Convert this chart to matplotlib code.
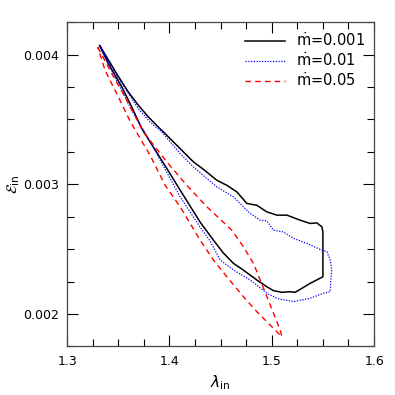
import matplotlib
matplotlib.use("Agg")
import matplotlib.pyplot as plt
from matplotlib.ticker import MultipleLocator, FormatStrFormatter

# mdot = 0.001 (closed loop, starting at the tip, upper branch first)
lam_001 = [1.3318, 1.3388, 1.3489, 1.3599, 1.3697, 1.3795, 1.3892, 1.3958, 1.4170,
           1.4235, 1.4332, 1.4463, 1.4561, 1.4659, 1.4757, 1.4854, 1.4952, 1.5050,
           1.5148, 1.5278, 1.5375, 1.5441, 1.5490, 1.5500, 1.5500, 1.5375, 1.5278,
           1.5229, 1.5180, 1.5099, 1.5017, 1.4952, 1.4854, 1.4723, 1.4626, 1.4528,
           1.4430, 1.4300, 1.4105, 1.3975, 1.3811, 1.3730, 1.3632, 1.3535, 1.3404,
           1.3318]
eps_001 = [0.004069, 0.003979, 0.003846, 0.003710, 0.003608, 0.003518, 0.003441,
           0.003390, 0.003223, 0.003172, 0.003115, 0.003031, 0.002992, 0.002941,
           0.002852, 0.002838, 0.002787, 0.002762, 0.002762, 0.002723, 0.002698,
           0.002702, 0.002672, 0.002633, 0.002287, 0.002236, 0.002190, 0.002167,
           0.002172, 0.002167, 0.002180, 0.002210, 0.002262, 0.002338, 0.002390,
           0.002469, 0.002569, 0.002708, 0.002954, 0.003121, 0.003326, 0.003429,
           0.003595, 0.003749, 0.003928, 0.004069]

# mdot = 0.01
lam_01 = [1.3318, 1.3489, 1.3697, 1.3811, 1.3926, 1.4105, 1.4235, 1.4366, 1.4463,
          1.4626, 1.4691, 1.4789, 1.4887, 1.4952, 1.5017, 1.5114, 1.5212, 1.5343,
          1.5473, 1.5539, 1.5571, 1.5587, 1.5577, 1.5571, 1.5505, 1.5375, 1.5212,
          1.5050, 1.4952, 1.4789, 1.4626, 1.4496, 1.4398, 1.4300, 1.4105, 1.3821,
          1.3626, 1.3430, 1.3318]
eps_01 = [0.004069, 0.003831, 0.003582, 0.003479, 0.003402, 0.003236, 0.003133,
          0.003044, 0.002980, 0.002902, 0.002852, 0.002775, 0.002723, 0.002718,
          0.002646, 0.002633, 0.002583, 0.002544, 0.002498, 0.002480, 0.002416,
          0.002339, 0.002262, 0.002172, 0.002160, 0.002121, 0.002095, 0.002121,
          0.002160, 0.002262, 0.002339, 0.002416, 0.002562, 0.002669, 0.002902,
          0.003316, 0.003577, 0.003885, 0.004069]

# mdot = 0.05
lam_05 = [1.3300, 1.3437, 1.3567, 1.3746, 1.3975, 1.4170, 1.4366, 1.4610, 1.4723,
          1.4821, 1.4887, 1.4952, 1.5017, 1.5082, 1.5099, 1.4984, 1.4854, 1.4723,
          1.4561, 1.4430, 1.4300, 1.4105, 1.3958, 1.3811, 1.3616, 1.3501, 1.3371,
          1.3300]
eps_05 = [0.004056, 0.003852, 0.003672, 0.003402, 0.003172, 0.002992, 0.002826,
          0.002646, 0.002518, 0.002390, 0.002262, 0.002134, 0.002006, 0.001877,
          0.001825, 0.001915, 0.002018, 0.002133, 0.002287, 0.002416, 0.002569,
          0.002826, 0.002992, 0.003223, 0.003485, 0.003672, 0.003877, 0.004056]

fig = plt.figure(figsize=(3.95, 3.95), dpi=100)
ax = fig.add_axes([0.17, 0.123, 0.777, 0.821])

ax.plot(lam_001, eps_001, color="black", lw=1.1, ls="-", label=r"$\dot{\rm m}$=0.001")
ax.plot(lam_01, eps_01, color="blue", lw=0.9, ls=(0, (1, 1.2)), label=r"$\dot{\rm m}$=0.01")
ax.plot(lam_05, eps_05, color="red", lw=1.0, ls=(0, (4, 3)), label=r"$\dot{\rm m}$=0.05")

ax.set_xlim(1.3, 1.6)
ax.set_ylim(0.00175, 0.00425)
ax.xaxis.set_major_locator(MultipleLocator(0.1))
ax.xaxis.set_minor_locator(MultipleLocator(0.025))
ax.yaxis.set_major_locator(MultipleLocator(0.001))
ax.yaxis.set_minor_locator(MultipleLocator(0.00025))
ax.xaxis.set_major_formatter(FormatStrFormatter("%.1f"))
ax.yaxis.set_major_formatter(FormatStrFormatter("%.3f"))
ax.tick_params(which="both", direction="in", top=True, right=True, labelsize=9, width=0.8)
ax.tick_params(which="major", length=8, pad=6)
ax.tick_params(which="minor", length=5)
for s in ax.spines.values():
    s.set_linewidth(0.9)
    s.set_color("#444444")

ax.set_xlabel(r"$\lambda_{\rm in}$", fontsize=11, labelpad=4)
ax.set_ylabel(r"$\mathcal{E}_{\rm in}$", fontsize=11, labelpad=1)

ax.legend(loc="upper right", frameon=False, fontsize=10.5, handlelength=2.7,
          handletextpad=0.8, labelspacing=0.15, borderaxespad=0.2)

fig.savefig("out.png", dpi=100)
